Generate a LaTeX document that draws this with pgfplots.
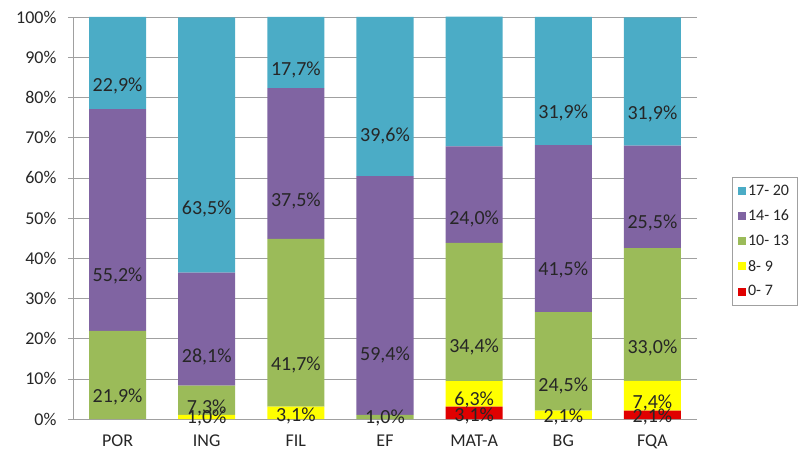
\documentclass[border=0pt]{standalone}
\usepackage{pgfplots}
\pgfplotsset{compat=1.18}
\usepackage{fontspec}
\setmainfont{Carlito}

\definecolor{cRed}{RGB}{224,0,0}
\definecolor{cYel}{RGB}{255,255,0}
\definecolor{cGrn}{RGB}{155,187,89}
\definecolor{cPur}{RGB}{128,100,162}
\definecolor{cTea}{RGB}{75,172,198}
\definecolor{cGrid}{RGB}{160,160,160}

\begin{document}
\begin{tikzpicture}
\useasboundingbox (-73bp,-33bp) rectangle (726bp,419bp);
\begin{axis}[
  scale only axis,
  width=624bp, height=402bp,
  ybar stacked, bar width=57bp,
  xmin=-0.5, xmax=6.5,
  ymin=0, ymax=100,
  xtick={0,...,6},
  xticklabels={POR,ING,FIL,EF,MAT-A,BG,FQA},
  ytick={0,10,...,100},
  yticklabel={\pgfmathprintnumber{\tick}\%},
  /pgf/number format/assume math mode=true,
  tick label style={font=\fontsize{18bp}{20bp}\selectfont, text=black!85},
  axis x line*=bottom, axis y line*=left,
  axis line style={cGrid},
  x tick style={draw=none},
  y tick style={cGrid, thin},
  major tick length=5bp,
  tick align=outside,
  yticklabel style={xshift=-8bp},
  xticklabel style={yshift=-7bp},
  ymajorgrids, grid style={cGrid, thin},
  point meta min=0, point meta max=100,
  nodes near coords={\pgfmathfloatifflags{\pgfplotspointmeta}{0}{}{\pgfmathprintnumber[fixed,fixed zerofill,precision=1,use comma]{\pgfplotspointmeta}\%}},
  every node near coord/.append style={anchor=center, yshift=-0.1005bp*\pgfplotspointmetatransformed, font=\fontsize{20bp}{22bp}\selectfont, text=black!85, inner sep=0pt},
  reverse legend,
  legend style={at={(1.056,0.602)}, anchor=north west, draw=cGrid, fill=white,
    font=\fontsize{16bp}{19bp}\selectfont, text=black!85,
    row sep=9bp, inner xsep=6bp, inner ysep=6bp},
  legend cell align=left,
  legend image code/.code={\fill[#1] (0bp,-4bp) rectangle (8bp,4bp);},
]
\addplot[fill=cRed, draw=none] coordinates {(0,0) (1,0) (2,0) (3,0) (4,3.1) (5,0) (6,2.1)};
\addlegendentry{0- 7}
\addplot[fill=cYel, draw=none] coordinates {(0,0) (1,1.0) (2,3.1) (3,0) (4,6.3) (5,2.1) (6,7.4)};
\addlegendentry{8- 9}
\addplot[fill=cGrn, draw=none] coordinates {(0,21.9) (1,7.3) (2,41.7) (3,1.0) (4,34.4) (5,24.5) (6,33.0)};
\addlegendentry{10- 13}
\addplot[fill=cPur, draw=none] coordinates {(0,55.2) (1,28.1) (2,37.5) (3,59.4) (4,24.0) (5,41.5) (6,25.5)};
\addlegendentry{14- 16}
\addplot[fill=cTea, draw=none] coordinates {(0,22.9) (1,63.5) (2,17.7) (3,39.6) (4,32.3) (5,31.9) (6,31.9)};
\addlegendentry{17- 20}
\end{axis}
\end{tikzpicture}
\end{document}
